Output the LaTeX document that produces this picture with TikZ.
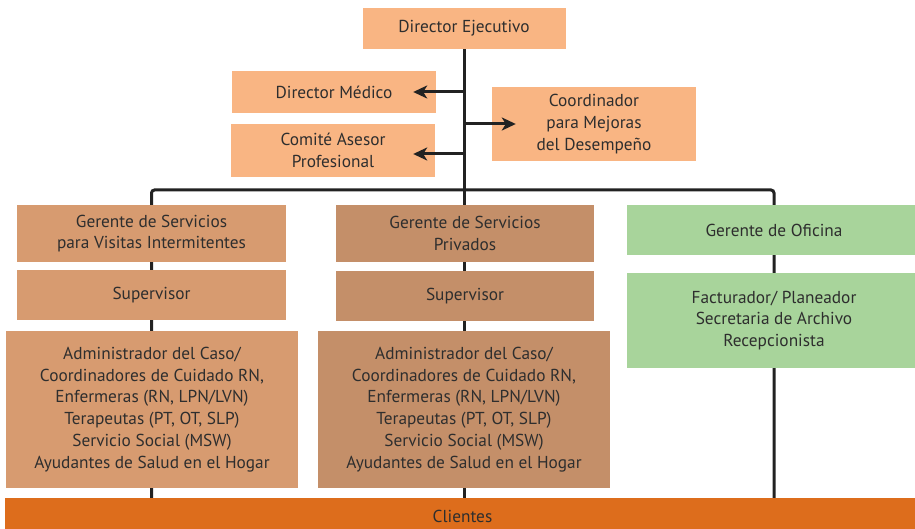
\documentclass[tikz,border=0pt]{standalone}
\usepackage{fontspec}
\setmainfont{PT Sans}
\usetikzlibrary{arrows.meta,backgrounds}
\definecolor{topc}{HTML}{F9B583}
\definecolor{leftc}{HTML}{D79B70}
\definecolor{midc}{HTML}{C48F69}
\definecolor{greenc}{HTML}{A8D49B}
\definecolor{clic}{HTML}{DD6D1C}
\definecolor{txt}{HTML}{2E2E2E}
\definecolor{linec}{HTML}{222222}
\tikzset{
  box/.style={inner sep=0pt, align=center, text=txt, font=\fontsize{17.3}{21.8}\selectfont},
  topbox/.style={box, fill=topc},
  leftbox/.style={box, fill=leftc},
  midbox/.style={box, fill=midc},
  greenbox/.style={box, fill=greenc},
  conn/.style={draw=linec, line width=3pt},
  arr/.style={conn, -{Stealth[length=14pt,width=13pt,inset=4pt]}},
}
\begin{document}
\begin{tikzpicture}[x=1pt,y=-1pt]
\useasboundingbox (0,0) rectangle (915,529);
% top
\node[topbox, minimum width=203pt, minimum height=41pt] (de) at (464,28.5) {Director Ejecutivo};
\node[topbox, minimum width=204pt, minimum height=42pt] (dm) at (334,92) {Director Médico};
\node[topbox, minimum width=204pt, minimum height=53pt] (ca) at (333,150.5) {Comité Asesor\\Profesional};
\node[topbox, minimum width=204pt, minimum height=74pt] (cm) at (594,124) {Coordinador\\para Mejoras\\del Desempeño};
% left column
\node[leftbox, minimum width=269pt, minimum height=57pt] (gv) at (151.5,233.5) {Gerente de Servicios\\para Visitas Intermitentes};
\node[leftbox, minimum width=269pt, minimum height=50pt] (sv1) at (151.5,295) {Supervisor};
\node[leftbox, minimum width=292pt, minimum height=157pt] (ad1) at (152,409.5) {Administrador del Caso/\\Coordinadores de Cuidado RN,\\Enfermeras (RN, LPN/LVN)\\Terapeutas (PT, OT, SLP)\\Servicio Social (MSW)\\Ayudantes de Salud en el Hogar};
% middle column
\node[midbox, minimum width=258pt, minimum height=57pt] (gp) at (465,233.5) {Gerente de Servicios\\Privados};
\node[midbox, minimum width=258pt, minimum height=50pt] (sv2) at (465,296) {Supervisor};
\node[midbox, minimum width=292pt, minimum height=157pt] (ad2) at (464,409.5) {Administrador del Caso/\\Coordinadores de Cuidado RN,\\Enfermeras (RN, LPN/LVN)\\Terapeutas (PT, OT, SLP)\\Servicio Social (MSW)\\Ayudantes de Salud en el Hogar};
% right column
\node[greenbox, minimum width=294pt, minimum height=50pt] (go) at (774,230) {Gerente de Oficina};
\node[greenbox, minimum width=294pt, minimum height=95pt] (fp) at (774,320.5) {Facturador/ Planeador\\Secretaria de Archivo\\Recepcionista};
% clients
\node[box, fill=clic, minimum width=915pt, minimum height=36pt] (cl) at (462.5,516) {Clientes};
\coordinate (bar) at (0,190);
\begin{scope}[on background layer]
  \draw[conn] (de.south) -- (de.south |- cl.north);
  \draw[conn, rounded corners=3pt] (gv.center |- cl.north) -- (gv.center |- bar) -- (go.center |- bar) -- (go.center |- cl.north);
\end{scope}
\draw[arr, shorten >=-23pt] (de.south |- dm.east) -- (dm.east);
\draw[arr, shorten >=-22pt] ([yshift=-3.5pt]de.south |- ca.east) -- ([yshift=-3.5pt]ca.east);
\draw[arr, shorten >=-24pt] (de.south |- cm.west) -- (cm.west);
\end{tikzpicture}
\end{document}
